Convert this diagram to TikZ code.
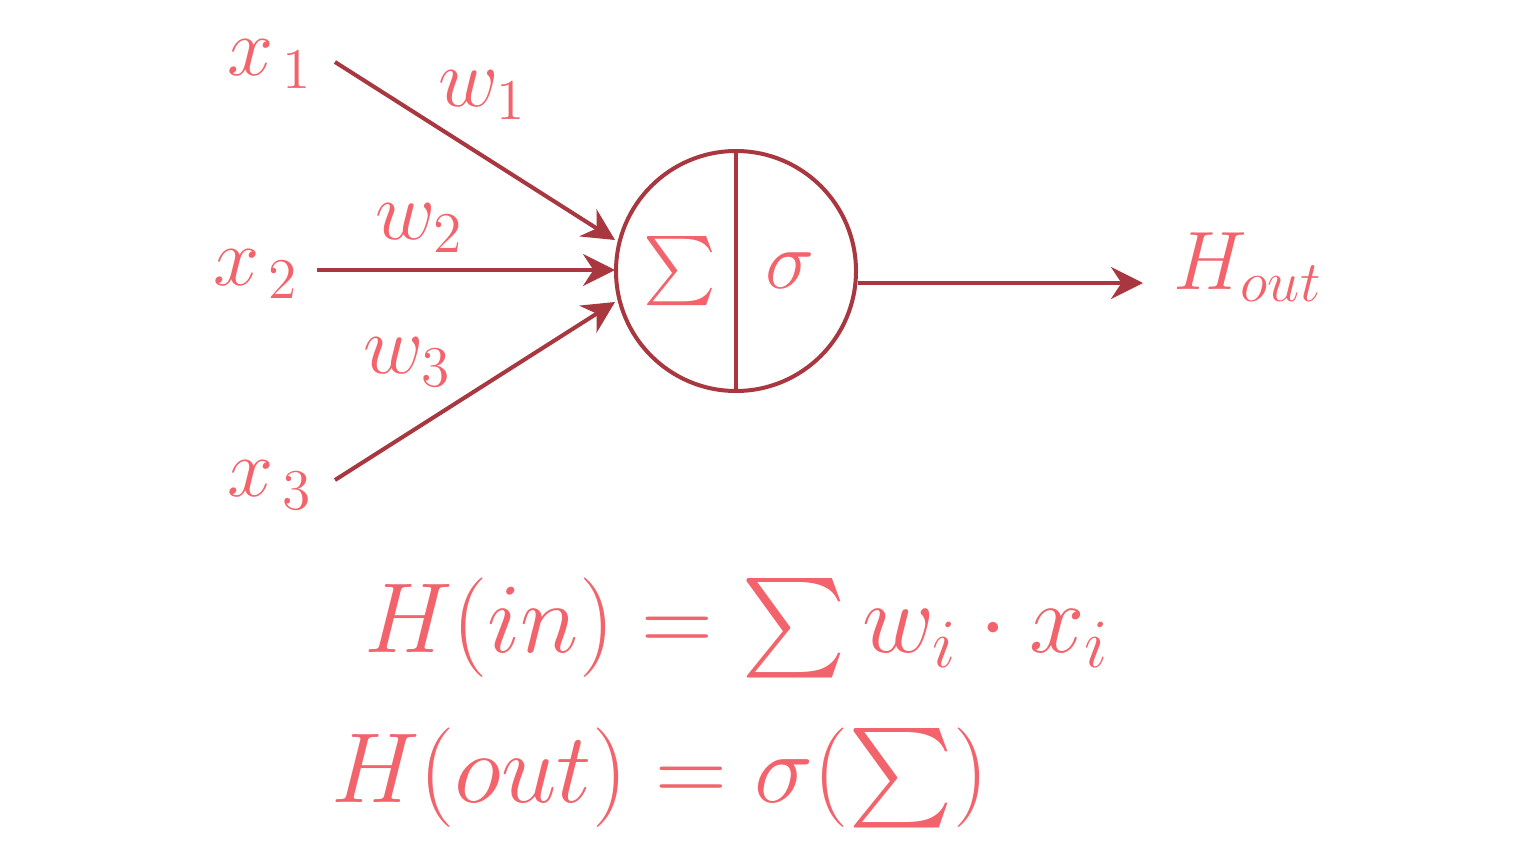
\documentclass[tikz,border=0pt]{standalone}
\usepackage{amsmath}
\usepackage{exscale}
\usetikzlibrary{arrows.meta}
\definecolor{labelred}{HTML}{F2636B}
\definecolor{linered}{HTML}{A8373F}
\tikzset{
  lbl/.style={text=labelred,font=\fontsize{22}{26}\selectfont},
  eqn/.style={text=labelred,font=\fontsize{24}{29}\selectfont},
  conn/.style={draw=linered,line width=1pt,-{Stealth[length=8pt,width=8pt]}},
}
\begin{document}
\begin{tikzpicture}[x=0.25pt,y=-0.25pt]
	\useasboundingbox (0,0) rectangle (1539,846) ;
	% neuron
	\node[draw=linered,line width=1pt,circle,minimum size=240*0.25pt,inner sep=0pt] (N) at (736,271) {} ;
	\draw[linered,line width=1pt] (N.north)--(N.south) ;
	\node[lbl,font=\fontsize{19}{23}\selectfont] (S) at (680,271) {$\sum$} ;
	\node[lbl] (s) at (790,271) {$\sigma$} ;
	% inputs
	\coordinate (a1) at (335,62) ; \coordinate (a2) at (317,270) ; \coordinate (a3) at (335,480) ;
	\coordinate (b1) at (615,240) ; \coordinate (b2) at (615,270) ; \coordinate (b3) at (615,302) ;
	\node[lbl] (x1) at (270,64) {$x_{\,1}$} ;
	\node[lbl] (x2) at (256,274) {$x_{\,2}$} ;
	\node[lbl] (x3) at (270,485) {$x_{\,3}$} ;
	\node[lbl] (w1) at (483,95) {$w_1$} ;
	\node[lbl] (w2) at (420,228) {$w_2$} ;
	\node[lbl] (w3) at (408,362) {$w_3$} ;
	\foreach \i in {1,2,3} \draw[conn] (a\i)--(b\i) ;
	% output
	\coordinate (o1) at (858,283) ; \coordinate (o2) at (1143,283) ;
	\draw[conn] (o1)--(o2) ;
	\node[lbl] (H) at (1248,267) {$H_{out}$} ;
	% formulas
	\node[eqn] (f1) at (737,628) {$H(in)=\sum w_i\cdot x_i$} ;
	\node[eqn] (f2) at (660,778) {$H(out)=\sigma(\sum)$} ;
\end{tikzpicture}
\end{document}
